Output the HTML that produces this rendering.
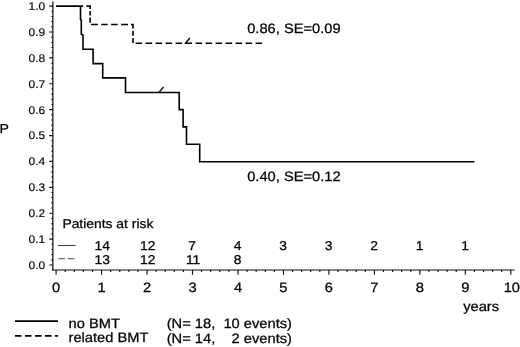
<!DOCTYPE html>
<html><head><meta charset="utf-8"><title>Kaplan-Meier</title>
<style>html,body{margin:0;padding:0;background:#fff}svg{display:block}text{font-family:"Liberation Sans",Arial,sans-serif;fill:#000;stroke:#000;text-rendering:geometricPrecision}</style></head><body>
<svg width="520" height="347" viewBox="0 0 520 347">
<rect width="520" height="347" fill="#fff"/>
<g stroke="#111" fill="none">
<path stroke-width="1.25" d="M52.85,1.4V270.5"/>
<path stroke-width="1.0" d="M52.25,270.0H514.6"/>
</g>
<g stroke="#111" stroke-width="1.15" fill="none">
<path d="M49.25,6.10H52.85M51.35,11.28H52.85M51.35,16.46H52.85M51.35,21.63H52.85M51.35,26.81H52.85M49.25,31.99H52.85M51.35,37.17H52.85M51.35,42.35H52.85M51.35,47.52H52.85M51.35,52.70H52.85M49.25,57.88H52.85M51.35,63.06H52.85M51.35,68.24H52.85M51.35,73.41H52.85M51.35,78.59H52.85M49.25,83.77H52.85M51.35,88.95H52.85M51.35,94.13H52.85M51.35,99.30H52.85M51.35,104.48H52.85M49.25,109.66H52.85M51.35,114.84H52.85M51.35,120.02H52.85M51.35,125.19H52.85M51.35,130.37H52.85M49.25,135.55H52.85M51.35,140.73H52.85M51.35,145.91H52.85M51.35,151.08H52.85M51.35,156.26H52.85M49.25,161.44H52.85M51.35,166.62H52.85M51.35,171.80H52.85M51.35,176.97H52.85M51.35,182.15H52.85M49.25,187.33H52.85M51.35,192.51H52.85M51.35,197.69H52.85M51.35,202.86H52.85M51.35,208.04H52.85M49.25,213.22H52.85M51.35,218.40H52.85M51.35,223.58H52.85M51.35,228.75H52.85M51.35,233.93H52.85M49.25,239.11H52.85M51.35,244.29H52.85M51.35,249.47H52.85M51.35,254.64H52.85M51.35,259.82H52.85M49.25,265.00H52.85M56.10,270.0V274.80M65.19,270.0V272.10M74.29,270.0V272.10M83.38,270.0V272.10M92.48,270.0V272.10M101.57,270.0V274.80M110.66,270.0V272.10M119.76,270.0V272.10M128.85,270.0V272.10M137.95,270.0V272.10M147.04,270.0V274.80M156.13,270.0V272.10M165.23,270.0V272.10M174.32,270.0V272.10M183.42,270.0V272.10M192.51,270.0V274.80M201.60,270.0V272.10M210.70,270.0V272.10M219.79,270.0V272.10M228.89,270.0V272.10M237.98,270.0V274.80M247.07,270.0V272.10M256.17,270.0V272.10M265.26,270.0V272.10M274.36,270.0V272.10M283.45,270.0V274.80M292.54,270.0V272.10M301.64,270.0V272.10M310.73,270.0V272.10M319.83,270.0V272.10M328.92,270.0V274.80M338.01,270.0V272.10M347.11,270.0V272.10M356.20,270.0V272.10M365.30,270.0V272.10M374.39,270.0V274.80M383.48,270.0V272.10M392.58,270.0V272.10M401.67,270.0V272.10M410.77,270.0V272.10M419.86,270.0V274.80M428.95,270.0V272.10M438.05,270.0V272.10M447.14,270.0V272.10M456.24,270.0V272.10M465.33,270.0V274.80M474.42,270.0V272.10M483.52,270.0V272.10M492.61,270.0V272.10M501.71,270.0V272.10M510.80,270.0V274.80"/>
</g>
<text transform="translate(45.20,10.00) scale(1.08,1)" font-size="11.1" text-anchor="end" stroke-width="0.15">1.0</text>
<text transform="translate(45.20,35.89) scale(1.08,1)" font-size="11.1" text-anchor="end" stroke-width="0.15">0.9</text>
<text transform="translate(45.20,61.78) scale(1.08,1)" font-size="11.1" text-anchor="end" stroke-width="0.15">0.8</text>
<text transform="translate(45.20,87.67) scale(1.08,1)" font-size="11.1" text-anchor="end" stroke-width="0.15">0.7</text>
<text transform="translate(45.20,113.56) scale(1.08,1)" font-size="11.1" text-anchor="end" stroke-width="0.15">0.6</text>
<text transform="translate(45.20,139.45) scale(1.08,1)" font-size="11.1" text-anchor="end" stroke-width="0.15">0.5</text>
<text transform="translate(45.20,165.34) scale(1.08,1)" font-size="11.1" text-anchor="end" stroke-width="0.15">0.4</text>
<text transform="translate(45.20,191.23) scale(1.08,1)" font-size="11.1" text-anchor="end" stroke-width="0.15">0.3</text>
<text transform="translate(45.20,217.12) scale(1.08,1)" font-size="11.1" text-anchor="end" stroke-width="0.15">0.2</text>
<text transform="translate(45.20,243.01) scale(1.08,1)" font-size="11.1" text-anchor="end" stroke-width="0.15">0.1</text>
<text transform="translate(45.20,268.90) scale(1.08,1)" font-size="11.1" text-anchor="end" stroke-width="0.15">0.0</text>
<text transform="translate(56.10,292.20) scale(1.08,1)" font-size="13.6" text-anchor="middle" stroke-width="0.25">0</text>
<text transform="translate(101.57,292.20) scale(1.08,1)" font-size="13.6" text-anchor="middle" stroke-width="0.25">1</text>
<text transform="translate(147.04,292.20) scale(1.08,1)" font-size="13.6" text-anchor="middle" stroke-width="0.25">2</text>
<text transform="translate(192.51,292.20) scale(1.08,1)" font-size="13.6" text-anchor="middle" stroke-width="0.25">3</text>
<text transform="translate(237.98,292.20) scale(1.08,1)" font-size="13.6" text-anchor="middle" stroke-width="0.25">4</text>
<text transform="translate(283.45,292.20) scale(1.08,1)" font-size="13.6" text-anchor="middle" stroke-width="0.25">5</text>
<text transform="translate(328.92,292.20) scale(1.08,1)" font-size="13.6" text-anchor="middle" stroke-width="0.25">6</text>
<text transform="translate(374.39,292.20) scale(1.08,1)" font-size="13.6" text-anchor="middle" stroke-width="0.25">7</text>
<text transform="translate(419.86,292.20) scale(1.08,1)" font-size="13.6" text-anchor="middle" stroke-width="0.25">8</text>
<text transform="translate(465.33,292.20) scale(1.08,1)" font-size="13.6" text-anchor="middle" stroke-width="0.25">9</text>
<text transform="translate(511.80,292.20) scale(1.08,1)" font-size="13.6" text-anchor="middle" stroke-width="0.25">10</text>
<text transform="translate(463.20,311.40) scale(1.08,1)" font-size="13.6" text-anchor="start" stroke-width="0.25">years</text>
<text transform="translate(-0.40,133.40) scale(1.08,1)" font-size="13.05" text-anchor="start" stroke-width="0.25">P</text>
<g stroke="#000" stroke-width="1.6" fill="none" stroke-linejoin="miter">
<path d="M86.4,6.1H90.95M90.1,5.25V8.9M90.1,11V15.5M90.1,17.6V22.7M91,24.55H97.9M101.2,24.55H107.7M111.1,24.55H117.7M121.1,24.55H128M131,24.55H133.85M133,23.7V28.6M133,30.9V35.8M133,38.1V43M135.6,43.3H142.1M145.6,43.3H152.1M155.6,43.3H162.1M165.6,43.3H172.1M175.6,43.3H182.1M184.8,43.3H192.0M195.6,43.3H202.1M205.6,43.3H212.1M215.6,43.3H222.1M225.6,43.3H232.1M235.6,43.3H242.1M245.6,43.3H252.1M255.6,43.3H262.1"/>
<path d="M185.4,43.5L189.8,38" stroke-width="1.3"/>
<path stroke-width="1.6" d="M56,6.1H83.1M80.5,6.1V19.6L81.3,20.2V34.2L83,35V49.2H93.1V63.6H102.7V77.9H125.5V92.5H179.2V109.6H183.1V126.9H186.5V144.3H199.7V161.8H474.4"/>
<path d="M158.8,92.6L163.5,87" stroke-width="1.3"/>
</g>
<text transform="translate(247.20,32.50) scale(1.08,1)" font-size="13.6" text-anchor="start" stroke-width="0.25">0.86, SE=0.09</text>
<text transform="translate(247.20,180.60) scale(1.08,1)" font-size="13.6" text-anchor="start" stroke-width="0.25">0.40, SE=0.12</text>
<text transform="translate(62.40,228.40) scale(1.08,1)" font-size="12.85" text-anchor="start" stroke-width="0.25">Patients at risk</text>
<text transform="translate(102.17,249.50) scale(1.08,1)" font-size="12.85" text-anchor="middle" stroke-width="0.25">14</text>
<text transform="translate(147.64,249.50) scale(1.08,1)" font-size="12.85" text-anchor="middle" stroke-width="0.25">12</text>
<text transform="translate(192.21,249.50) scale(1.08,1)" font-size="12.85" text-anchor="middle" stroke-width="0.25">7</text>
<text transform="translate(237.68,249.50) scale(1.08,1)" font-size="12.85" text-anchor="middle" stroke-width="0.25">4</text>
<text transform="translate(283.15,249.50) scale(1.08,1)" font-size="12.85" text-anchor="middle" stroke-width="0.25">3</text>
<text transform="translate(328.62,249.50) scale(1.08,1)" font-size="12.85" text-anchor="middle" stroke-width="0.25">3</text>
<text transform="translate(374.09,249.50) scale(1.08,1)" font-size="12.85" text-anchor="middle" stroke-width="0.25">2</text>
<text transform="translate(419.56,249.50) scale(1.08,1)" font-size="12.85" text-anchor="middle" stroke-width="0.25">1</text>
<text transform="translate(465.03,249.50) scale(1.08,1)" font-size="12.85" text-anchor="middle" stroke-width="0.25">1</text>
<text transform="translate(102.17,263.50) scale(1.08,1)" font-size="12.85" text-anchor="middle" stroke-width="0.25">13</text>
<text transform="translate(147.64,263.50) scale(1.08,1)" font-size="12.85" text-anchor="middle" stroke-width="0.25">12</text>
<text transform="translate(193.11,263.50) scale(1.08,1)" font-size="12.85" text-anchor="middle" stroke-width="0.25">11</text>
<text transform="translate(237.68,263.50) scale(1.08,1)" font-size="12.85" text-anchor="middle" stroke-width="0.25">8</text>
<path d="M58,245.5H75.6" stroke="#444" stroke-width="1.1"/>
<path d="M58.4,258.8H74.6" stroke="#444" stroke-width="1.1" stroke-dasharray="6.5 3"/>
<path d="M15,321.1H58" stroke="#000" stroke-width="1.7"/>
<path d="M15,335.9H58" stroke="#000" stroke-width="1.7" stroke-dasharray="6.5 3.5"/>
<text transform="translate(68.50,327.70) scale(1.08,1)" font-size="13.6" text-anchor="start" stroke-width="0.25">no BMT</text>
<text transform="translate(68.50,342.00) scale(1.08,1)" font-size="13.6" text-anchor="start" stroke-width="0.25">related BMT</text>
<text transform="translate(166.7,327.6) scale(1.08,1)" font-size="13.6" stroke-width="0.25" xml:space="preserve">(N= 18,  10 events)</text>
<text transform="translate(166.7,342.8) scale(1.08,1)" font-size="13.6" stroke-width="0.25" xml:space="preserve">(N= 14,    2 events)</text>
</svg></body></html>
